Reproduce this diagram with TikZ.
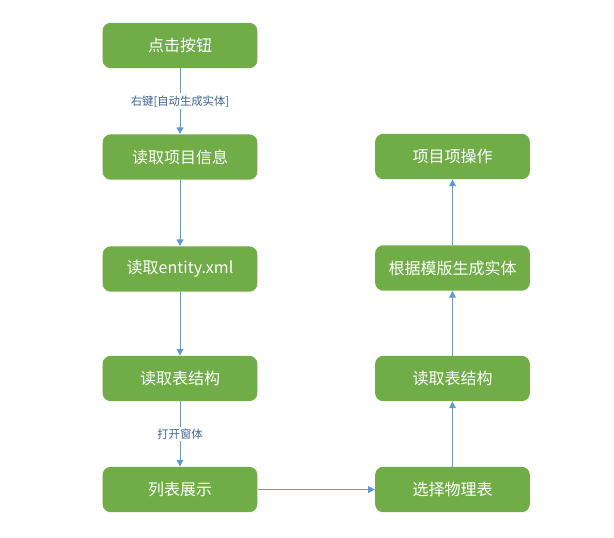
\documentclass[tikz,border=0pt]{standalone}
\usepackage{fontspec}
\setmainfont{Noto Sans CJK SC}
\usetikzlibrary{arrows.meta}
\definecolor{boxgreen}{HTML}{70AD47}
\definecolor{linkblue}{HTML}{5B9BD5}
\definecolor{lbltext}{HTML}{3E6391}
\tikzset{
  box/.style={draw=none,fill=boxgreen,rounded corners=6pt,minimum width=116pt,minimum height=34pt,inner sep=0pt,text=white,font=\fontsize{12pt}{14pt}\selectfont},
  conn/.style={draw=linkblue,line width=.75pt,-{Triangle[width=5pt,length=5pt]}},
  lbl/.style={fill=white,text=lbltext,inner sep=1.5pt,font=\fontsize{8.5pt}{10pt}\selectfont}
}
\begin{document}
\begin{tikzpicture}[x=.75pt,y=-.75pt]
\useasboundingbox (0,0) rectangle (614,537);
\node[box] (click) at (180,45.5) {点击按钮};
\node[box] (readinfo) at (180,157) {读取项目信息};
\node[box] (readxml) at (180,269) {读取entity.xml};
\node[box] (readtbl) at (180,378.5) {读取表结构};
\node[box] (listshow) at (180,489.5) {列表展示};
\node[box] (choosetbl) at (452.5,489.5) {选择物理表};
\node[box] (readtblb) at (452.5,378.5) {读取表结构};
\node[box] (gen) at (452.5,268) {根据模版生成实体};
\node[box] (itemop) at (452.5,156.5) {项目项操作};
\draw[conn] (click) -- node[lbl] {右键[自动生成实体]} (readinfo);
\draw[conn] (readinfo) -- (readxml);
\draw[conn] (readxml) -- (readtbl);
\draw[conn] (readtbl) -- node[lbl] {打开窗体} (listshow);
\draw[conn] (listshow) -- (choosetbl);
\draw[conn] (choosetbl) -- (readtblb);
\draw[conn] (readtblb) -- (gen);
\draw[conn] (gen) -- (itemop);
\end{tikzpicture}
\end{document}
